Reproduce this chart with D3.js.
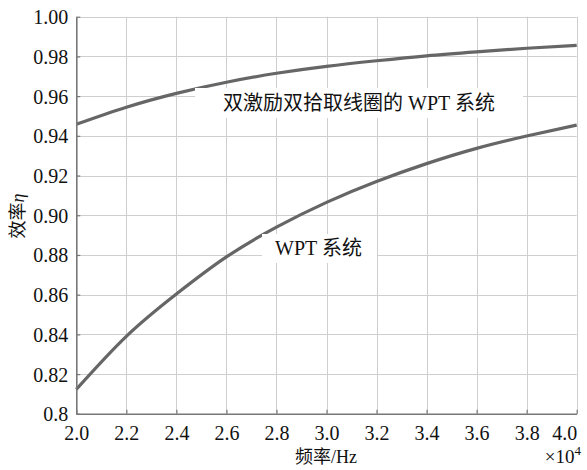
<!DOCTYPE html>
<html>
<head>
<meta charset="utf-8">
<script src="https://cdn.jsdelivr.net/npm/d3@7"></script>
<style>
body{margin:0;background:#fff;}
</style>
</head>
<body>
<div id="chart"></div>
<script>
// 数据
var freq = [2.0,2.2,2.4,2.6,2.8,3.0,3.2,3.4,3.6,3.8,4.0];
var effDual = [0.9458,0.9544,0.9614,0.9670,0.9715,0.9750,0.9778,0.9803,0.9823,0.9841,0.9856];
var effWpt = [0.8123,0.8390,0.8603,0.8790,0.8940,0.9065,0.9170,0.9260,0.9337,0.9399,0.9454];
var xTicks = [2.0,2.2,2.4,2.6,2.8,3.0,3.2,3.4,3.6,3.8,4.0];
var yTicks = [0.80,0.82,0.84,0.86,0.88,0.90,0.92,0.94,0.96,0.98,1.00];
var yTickLabels = ["0.8","0.82","0.84","0.86","0.88","0.90","0.92","0.94","0.96","0.98","1.00"];

var SERIF = "'Liberation Serif','Times New Roman',Times,'DejaVu Serif',serif";
var CJK = "'Noto Sans CJK SC',sans-serif";
var width = 587, height = 470;
var svg = d3.select("#chart").append("svg")
    .attr("width", width)
    .attr("height", height);

var x = d3.scaleLinear().domain([2.0,4.0]).range([76.3,576.7]);
var y = d3.scaleLinear().domain([0.8,1.0]).range([413.8,16.7]);

// 网格线
var grid = svg.append("g");
xTicks.forEach(function(d){
    grid.append("line")
        .attr("x1", Math.round(x(d))+0.5).attr("x2", Math.round(x(d))+0.5)
        .attr("y1", y(0.8)).attr("y2", y(1.0))
        .attr("stroke", "#cfcfcf").attr("stroke-width", 1);
});
yTicks.forEach(function(d){
    grid.append("line")
        .attr("x1", x(2.0)).attr("x2", x(4.0))
        .attr("y1", Math.round(y(d))+0.5).attr("y2", Math.round(y(d))+0.5)
        .attr("stroke", "#cfcfcf").attr("stroke-width", 1);
});

// 曲线
var line = d3.line()
    .x(function(d){return x(d[0]);})
    .y(function(d){return y(d[1]);})
    .curve(d3.curveNatural);
svg.append("path")
    .attr("d", line(d3.zip(freq, effDual)))
    .attr("fill", "none").attr("stroke", "#666").attr("stroke-width", 3.2);
svg.append("path")
    .attr("d", line(d3.zip(freq, effWpt)))
    .attr("fill", "none").attr("stroke", "#666").attr("stroke-width", 3.2);

// 混排文字: 中文用CJK字体, 西文用衬线体
function mixText(t, parts, size){
    parts.forEach(function(p){
        t.append("tspan").style("font-family", p[1] ? CJK : SERIF)
            .style("font-size", size).style("font-style", p[2] ? "italic" : null)
            .text(p[0]);
    });
    return t;
}

// 标注(白底)
svg.append("rect").attr("x",195).attr("y",88).attr("width",328).attr("height",30).attr("fill","#fff");
mixText(svg.append("text").attr("x",359).attr("y",110).attr("text-anchor","middle").attr("fill","#111"),
    [["双激励双拾取线圈的",1],[" WPT ",0],["系统",1]], "20px");
svg.append("rect").attr("x",262).attr("y",234).attr("width",115).attr("height",29).attr("fill","#fff");
mixText(svg.append("text").attr("x",318.5).attr("y",255).attr("text-anchor","middle").attr("fill","#111"),
    [["WPT ",0],["系统",1]], "20px");

// 坐标轴
var xAxis = d3.axisBottom(x).tickValues(xTicks).tickSize(-4).tickSizeOuter(0)
    .tickPadding(12).tickFormat(d3.format(".1f"));
var gx = svg.append("g").attr("transform","translate(0,"+y(0.8)+")").call(xAxis);
var yAxis = d3.axisLeft(y).tickValues(yTicks).tickSize(-4).tickSizeOuter(0)
    .tickPadding(8).tickFormat(function(d,i){return yTickLabels[i];});
var gy = svg.append("g").attr("transform","translate("+x(2.0)+",0)").call(yAxis);
[gx, gy].forEach(function(g){
    g.attr("font-family", null);
    g.select(".domain").attr("stroke","#777").attr("stroke-width",1.6);
    g.selectAll(".tick line").attr("stroke","#777").attr("stroke-width",1.2);
    g.selectAll(".tick text").style("font-size","20px")
        .style("font-family",SERIF).attr("fill","#111");
});
gx.selectAll(".tick text").attr("dy","0.71em");
gx.selectAll(".tick text").filter(function(d){return d===4.0;})
    .attr("text-anchor","end").attr("x",0);
gy.selectAll(".tick text").attr("dy","0.35em");

// 坐标轴标题
mixText(svg.append("text").attr("x",326).attr("y",463).attr("text-anchor","middle").attr("fill","#111"),
    [["频率",1],["/Hz",0]], "18px");
mixText(svg.append("text").attr("transform","translate(24,216) rotate(-90)")
    .attr("text-anchor","middle").attr("fill","#111"),
    [["效率",1],["η",0,1]], "18px");
var ex = svg.append("text").attr("x",581).attr("y",463).attr("text-anchor","end")
    .style("font-family",SERIF).style("font-size","19px").attr("fill","#111");
ex.append("tspan").text("×10");
ex.append("tspan").attr("dy",-8).style("font-size","13px").text("4");
</script>
</body>
</html>
